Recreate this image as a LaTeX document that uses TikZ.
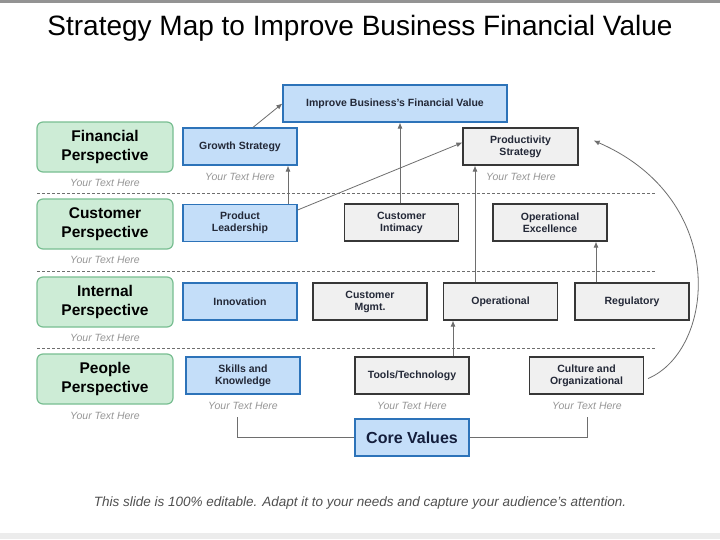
\documentclass[tikz,border=0pt]{standalone}
\usepackage{fontspec}
\setmainfont{Liberation Sans}
\usepackage{xcolor}
\usetikzlibrary{arrows.meta}
\definecolor{persgreen}{RGB}{205,236,214}
\definecolor{persedge}{RGB}{120,190,145}
\definecolor{stratblue}{RGB}{196,222,249}
\definecolor{stratedge}{RGB}{45,115,185}
\definecolor{plaingray}{RGB}{240,240,240}
\definecolor{plainedge}{RGB}{55,55,55}
\definecolor{linkgray}{RGB}{110,110,110}
\definecolor{notegray}{RGB}{150,150,150}
\definecolor{boxtext}{RGB}{35,40,55}

\begin{document}
\begin{tikzpicture}[x=1pt,y=-1pt, every node/.style={font=\bfseries\fontsize{10.5}{12}\selectfont, align=center, inner sep=1pt, text=boxtext}]
  \tikzstyle{persbox}=[rounded corners=6pt, draw=persedge, line width=1.2pt, fill=persgreen, minimum width=136pt, minimum height=50pt, text=black, font=\bfseries\fontsize{15.5}{19}\selectfont]
  \tikzstyle{bluebox}=[draw=stratedge, line width=1.2pt, fill=stratblue, minimum width=114pt, minimum height=37pt]
  \tikzstyle{graybox}=[draw=plainedge, line width=1.2pt, fill=plaingray, minimum width=114pt, minimum height=37pt]
  \tikzstyle{note}=[font=\itshape\fontsize{10.5}{12}\selectfont, text=notegray]
  \tikzstyle{flow}=[draw=linkgray, line width=0.8pt, -{Latex[length=6pt,width=5pt]}]
  \tikzstyle{band}=[draw=linkgray, line width=0.8pt, dash pattern=on 3pt off 2pt]
  \useasboundingbox (0,0) rectangle (720,539);
  \fill[white] (0,0) rectangle (720,539);
  \fill[gray!85] (0,0) rectangle (720,3);
  \fill[gray!15] (0,533) rectangle (720,539);
  \node[anchor=base, text=black, font=\fontsize{28}{32}\selectfont] (title) at (360,35) {Strategy Map to Improve Business Financial Value};
  % perspective bands
  \draw[band] (37,193) -- (655,193);
  \draw[band] (37,271) -- (655,271);
  \draw[band] (37,348) -- (655,348);
  % left column
  \node[persbox] (fin) at (105,147) {Financial\\Perspective};
  \node[persbox] (cus) at (105,224) {Customer\\Perspective};
  \node[persbox] (int) at (105,302) {Internal\\Perspective};
  \node[persbox] (peo) at (105,379) {People\\Perspective};
  \node[note] (finnote) at (105,183) {Your Text Here};
  \node[note] (cusnote) at (105,260) {Your Text Here};
  \node[note] (intnote) at (105,338) {Your Text Here};
  \node[note] (peonote) at (105,416) {Your Text Here};
  % strategy boxes
  \node[bluebox, minimum width=224pt] (improve) at (395,103.5) {Improve Business's Financial Value};
  \node[bluebox] (growth) at (240,146.5) {Growth Strategy};
  \node[graybox, minimum width=115pt] (prodstrat) at (520.5,146.5) {Productivity\\Strategy};
  \node[bluebox] (prodlead) at (240,223) {Product\\Leadership};
  \node[graybox] (intimacy) at (401.5,222.5) {Customer\\Intimacy};
  \node[graybox] (opexc) at (550,222.5) {Operational\\Excellence};
  \node[bluebox] (innov) at (240,301.5) {Innovation};
  \node[graybox] (custmgmt) at (370,301.5) {Customer\\Mgmt.};
  \node[graybox] (oper) at (500.5,301.5) {Operational};
  \node[graybox] (regul) at (632,301.5) {Regulatory};
  \node[bluebox] (skills) at (243,375.5) {Skills and\\Knowledge};
  \node[graybox] (tools) at (412,375.5) {Tools/Technology};
  \node[graybox] (culture) at (586.5,375.5) {Culture and\\Organizational};
  \node[note] (growthnote) at (240,177) {Your Text Here};
  \node[note] (prodnote) at (521,177) {Your Text Here};
  \node[note] (skillsnote) at (243,406) {Your Text Here};
  \node[note] (toolsnote) at (412,406) {Your Text Here};
  \node[note] (culturenote) at (587,406) {Your Text Here};
  \node[bluebox, font=\bfseries\fontsize{16}{18}\selectfont, text={rgb,255:red,20;green,30;blue,60}] (core) at (412,437.5) {Core Values};
  % links
  \draw[flow] ([xshift=13]growth.north) -- (improve.west);
  \draw[flow] ([xshift=48]prodlead.north) -- ([xshift=48]growth.south);
  \draw[flow] ([yshift=13]prodlead.east) -- ([yshift=4]prodstrat.west);
  \draw[flow] ([xshift=-1.5]intimacy.north) coordinate (ci) -- (ci |- improve.south);
  \draw[flow] ([xshift=-25.5]oper.north) coordinate (op) -- (op |- prodstrat.south);
  \draw[flow] ([xshift=-36]regul.north) coordinate (rg) -- (rg |- opexc.south);
  \draw[flow] ([xshift=41]tools.north) coordinate (tt) -- (tt |- oper.south);
  \draw[flow] ([xshift=4,yshift=-3]culture.east) .. controls (715,350) and (730,200) .. ([xshift=15,yshift=6]prodstrat.east);
  % core values bracket
  \coordinate (bl) at (237,417);
  \coordinate (br) at (587,417);
  \draw[draw=linkgray, line width=1pt] (bl) |- (core.west);
  \draw[draw=linkgray, line width=1pt] (core.east) -| (br);
  \node[anchor=base, font=\itshape\fontsize{13.5}{15}\selectfont, text={rgb,255:red,80;green,80;blue,80}] (footer) at (360,506) {This slide is 100\% editable. Adapt it to your needs and capture your audience's attention.};
\end{tikzpicture}
\end{document}
